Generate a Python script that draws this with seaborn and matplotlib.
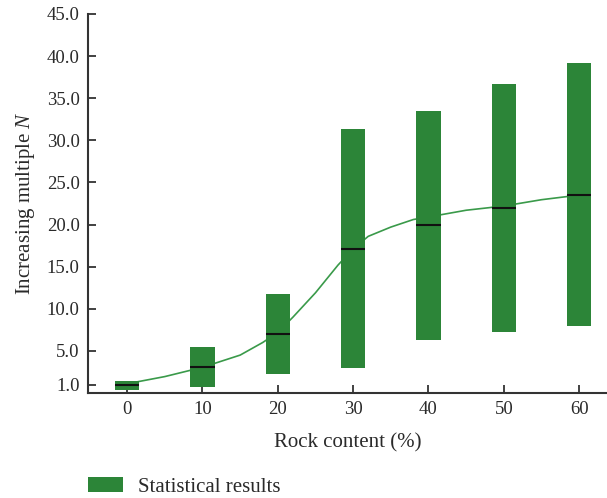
import matplotlib
matplotlib.use("Agg")
import matplotlib.pyplot as plt
import seaborn as sns
import pandas as pd
from matplotlib.patches import Patch

# Data
rock_content = [0, 10, 20, 30, 40, 50, 60]
box_low = [0.3, 0.75, 2.3, 3.0, 6.35, 7.3, 7.9]
box_high = [1.45, 5.5, 11.7, 31.3, 33.45, 36.7, 39.2]
box_median = [1.0, 3.1, 7.05, 17.1, 19.9, 22.0, 23.55]

curve_x = [0, 5, 10, 15, 18, 20, 22, 25, 28, 30, 32, 35, 38, 40, 45, 50, 55, 60]
curve_y = [1.1, 1.95, 3.05, 4.5, 6.0, 7.2, 9.0, 11.9, 15.2, 17.1, 18.6, 19.7,
           20.6, 20.9, 21.7, 22.2, 22.95, 23.5]

y_ticks = [1.0, 5.0, 10.0, 15.0, 20.0, 25.0, 30.0, 35.0, 40.0, 45.0]
x_ticks = [0, 10, 20, 30, 40, 50, 60]

sns.set_theme(style="ticks")
plt.rcParams['font.family'] = ['Liberation Serif', 'DejaVu Serif']
plt.rcParams['mathtext.fontset'] = 'custom'
plt.rcParams['mathtext.it'] = 'Liberation Serif:italic'
plt.rcParams['mathtext.rm'] = 'Liberation Serif'

bar_color = "#2c8538"
line_color = "#3a9a4a"
text_color = "#2a2a2a"
tick_fs = 13.5
label_fs = 15

fig = plt.figure(figsize=(6.07, 4.98), dpi=100)
ax = fig.add_axes([88 / 607, 1 - 393 / 498, 1 - 88 / 607, (393 - 14) / 498])

df_curve = pd.DataFrame({"x": curve_x, "y": curve_y})
sns.lineplot(data=df_curve, x="x", y="y", ax=ax, color=line_color, lw=1.2, zorder=1)

width = 3.2
heights = [h - l for h, l in zip(box_high, box_low)]
ax.bar(rock_content, heights, bottom=box_low, width=width, color=bar_color,
       edgecolor='none', zorder=2)
ax.hlines(box_median, [x - width / 2 for x in rock_content],
          [x + width / 2 for x in rock_content], color="#111111", lw=1.5, zorder=3)

ax.set_xlim(-5.2, 63.7)
ax.set_ylim(0, 45)
ax.set_xticks(x_ticks)
ax.set_xticklabels([str(v) for v in x_ticks])
ax.set_yticks(y_ticks)
ax.set_yticklabels([f"{v:.1f}" for v in y_ticks])

for s in ["top", "right"]:
    ax.spines[s].set_visible(False)
for s in ["left", "bottom"]:
    ax.spines[s].set_color("#333333")
    ax.spines[s].set_linewidth(1.5)

ax.tick_params(axis='both', direction='in', length=6, width=1.3, color="#333333",
               labelsize=tick_fs, labelcolor=text_color, pad=6)

ax.set_xlabel("Rock content (%)", fontsize=label_fs, color=text_color, labelpad=11)
ax.set_ylabel("Increasing multiple $\\it{N}$", fontsize=label_fs, color=text_color, labelpad=7)

handle = Patch(facecolor=bar_color, edgecolor='none', label="Statistical results")
fig.legend(handles=[handle], loc='center left', bbox_to_anchor=(69 / 607, 1 - 487 / 498),
           frameon=False, fontsize=label_fs, handlelength=1.7, handleheight=0.75,
           handletextpad=0.7, labelcolor=text_color)

fig.savefig("out.png", dpi=100)
